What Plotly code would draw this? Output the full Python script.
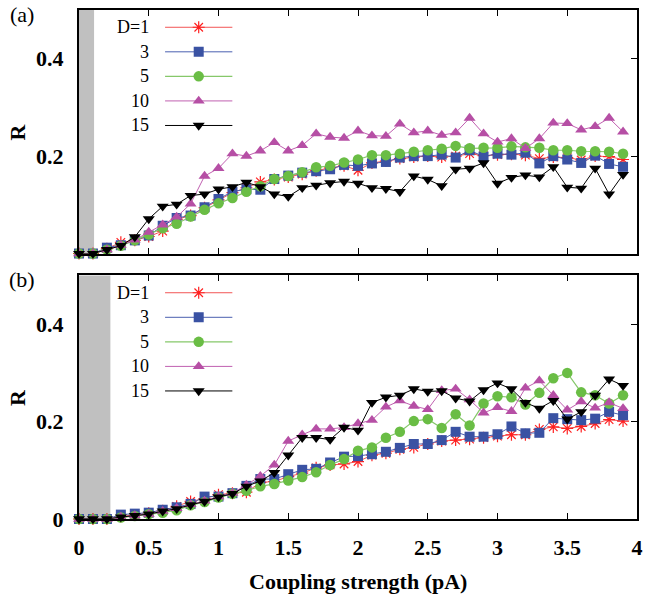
import plotly.graph_objects as go

# Coupling strength (pA)
coupling = [0.0, 0.1, 0.2, 0.3, 0.4, 0.5, 0.6, 0.7, 0.8, 0.9,
            1.0, 1.1, 1.2, 1.3, 1.4, 1.5, 1.6, 1.7, 1.8, 1.9,
            2.0, 2.1, 2.2, 2.3, 2.4, 2.5, 2.6, 2.7, 2.8, 2.9,
            3.0, 3.1, 3.2, 3.3, 3.4, 3.5, 3.6, 3.7, 3.8, 3.9]

# Panel (a): order parameter R for each D
a_D1 = [0, 0, 0.010, 0.023, 0.027, 0.035, 0.046, 0.070, 0.078, 0.094,
        0.110, 0.125, 0.135, 0.147, 0.152, 0.157, 0.163, 0.170, 0.176, 0.180,
        0.171, 0.186, 0.190, 0.195, 0.198, 0.200, 0.198, 0.200, 0.205, 0.201,
        0.203, 0.204, 0.202, 0.195, 0.198, 0.197, 0.192, 0.200, 0.199, 0.193]
a_D3 = [0, 0, 0.012, 0.017, 0.027, 0.037, 0.057, 0.073, 0.078, 0.095,
        0.112, 0.127, 0.132, 0.131, 0.153, 0.160, 0.166, 0.169, 0.173, 0.182,
        0.180, 0.185, 0.188, 0.197, 0.200, 0.200, 0.203, 0.197, 0.212, 0.199,
        0.205, 0.203, 0.207, 0.185, 0.200, 0.193, 0.186, 0.201, 0.184, 0.178]
a_D5 = [0, 0, 0.008, 0.016, 0.027, 0.039, 0.052, 0.061, 0.076, 0.090,
        0.103, 0.114, 0.127, 0.138, 0.153, 0.159, 0.167, 0.177, 0.180, 0.187,
        0.193, 0.202, 0.202, 0.205, 0.209, 0.212, 0.215, 0.221, 0.216, 0.217,
        0.217, 0.220, 0.218, 0.217, 0.212, 0.212, 0.210, 0.210, 0.209, 0.205]
a_D10 = [0, 0, 0.008, 0.017, 0.028, 0.044, 0.059, 0.075, 0.102, 0.159,
         0.175, 0.205, 0.200, 0.211, 0.228, 0.211, 0.222, 0.246, 0.239, 0.237,
         0.252, 0.242, 0.241, 0.266, 0.248, 0.252, 0.243, 0.248, 0.278, 0.246,
         0.229, 0.236, 0.216, 0.236, 0.268, 0.267, 0.254, 0.261, 0.278, 0.250]
a_D15 = [0, 0, 0.008, 0.016, 0.034, 0.071, 0.097, 0.101, 0.119, 0.122,
         0.132, 0.137, 0.146, 0.137, 0.122, 0.117, 0.135, 0.140, 0.145, 0.148,
         0.144, 0.135, 0.133, 0.127, 0.159, 0.152, 0.139, 0.173, 0.175, 0.186,
         0.144, 0.156, 0.161, 0.157, 0.178, 0.136, 0.134, 0.175, 0.122, 0.162]

# Panel (b): order parameter R for each D
b_D1 = [0, 0, 0, 0.005, 0.008, 0.012, 0.017, 0.026, 0.036, 0.042,
        0.050, 0.053, 0.055, 0.075, 0.077, 0.087, 0.094, 0.105, 0.111, 0.113,
        0.118, 0.131, 0.135, 0.143, 0.147, 0.154, 0.160, 0.162, 0.164, 0.167,
        0.170, 0.173, 0.173, 0.184, 0.189, 0.186, 0.190, 0.196, 0.204, 0.201]
b_D3 = [0, 0, 0, 0.009, 0.011, 0.013, 0.019, 0.024, 0.031, 0.046,
        0.046, 0.053, 0.068, 0.082, 0.082, 0.092, 0.101, 0.103, 0.116, 0.128,
        0.129, 0.133, 0.138, 0.146, 0.154, 0.154, 0.162, 0.179, 0.169, 0.169,
        0.174, 0.190, 0.176, 0.177, 0.207, 0.205, 0.203, 0.206, 0.220, 0.213]
b_D5 = [0, 0, 0, 0.003, 0.006, 0.010, 0.013, 0.018, 0.028, 0.035,
        0.044, 0.052, 0.058, 0.067, 0.072, 0.079, 0.086, 0.096, 0.111, 0.123,
        0.140, 0.147, 0.167, 0.179, 0.201, 0.205, 0.187, 0.215, 0.192, 0.237,
        0.252, 0.250, 0.235, 0.259, 0.289, 0.300, 0.260, 0.254, 0.237, 0.254]
b_D10 = [0, 0, 0, 0.004, 0.007, 0.010, 0.016, 0.022, 0.030, 0.037,
         0.046, 0.053, 0.070, 0.088, 0.111, 0.160, 0.173, 0.185, 0.185, 0.188,
         0.196, 0.203, 0.230, 0.243, 0.232, 0.225, 0.264, 0.267, 0.245, 0.218,
         0.229, 0.221, 0.269, 0.284, 0.254, 0.224, 0.241, 0.228, 0.239, 0.227]
b_D15 = [0, 0, 0, 0.004, 0.007, 0.010, 0.016, 0.021, 0.029, 0.036,
         0.045, 0.052, 0.067, 0.078, 0.095, 0.131, 0.167, 0.167, 0.163, 0.188,
         0.182, 0.239, 0.250, 0.254, 0.267, 0.262, 0.263, 0.248, 0.242, 0.265,
         0.279, 0.267, 0.239, 0.227, 0.243, 0.205, 0.220, 0.254, 0.287, 0.274]

series_labels = ["D=1", "3", "5", "10", "15"]
x_ticks = [0, 0.5, 1, 1.5, 2, 2.5, 3, 3.5, 4]
x_tick_text = ["0", "0.5", "1", "1.5", "2", "2.5", "3", "3.5", "4"]
y_ticks_a = [0.2, 0.4]
y_tick_text_a = ["0.2", "0.4"]
y_ticks_b = [0, 0.2, 0.4]
y_tick_text_b = ["0", "0.2", "0.4"]
silent_band_a = 0.108   # upper edge of the shaded region in (a)
silent_band_b = 0.225   # upper edge of the shaded region in (b)

SERIF = "Liberation Serif"


def bold(labels):
    return ["<b>%s</b>" % t for t in labels]


styles = [
    dict(line=dict(color="#f25555", width=1),
         marker=dict(symbol="asterisk-open", size=10, color="#ff2020",
                     line=dict(color="#ff2020", width=1.2))),
    dict(line=dict(color="#4a5fb0", width=1),
         marker=dict(symbol="square", size=10, color="#3a52a3")),
    dict(line=dict(color="#86c86a", width=1.2),
         marker=dict(symbol="circle", size=10.5, color="#6abd45")),
    dict(line=dict(color="#c060b0", width=1),
         marker=dict(symbol="triangle-up", size=10.5, color="#b64fa5")),
    dict(line=dict(color="#000000", width=1),
         marker=dict(symbol="triangle-down", size=10.5, color="#000000")),
]

fig = go.Figure()

panels = [
    ("x2", "y2", [a_D1, a_D3, a_D5, a_D10, a_D15]),
    ("x", "y", [b_D1, b_D3, b_D5, b_D10, b_D15]),
]
for xa, ya, data in panels:
    for lab, vals, st in zip(series_labels, data, styles):
        fig.add_trace(go.Scatter(x=coupling, y=vals, mode="lines+markers",
                                 name=lab, xaxis=xa, yaxis=ya, cliponaxis=False,
                                 showlegend=False, **st))

# placeholder traces so the right-hand tick axes are rendered
fig.add_trace(go.Scatter(x=[None], y=[None], xaxis="x", yaxis="y3",
                         showlegend=False, hoverinfo="skip"))
fig.add_trace(go.Scatter(x=[None], y=[None], xaxis="x2", yaxis="y4",
                         showlegend=False, hoverinfo="skip"))

# in-plot keys: text on the left, line sample with marker on the right
LEG_ROW0, LEG_STEP = 17.3, 24.6
LEG_TEXT_X, LEG_LINE = 73, (87, 155)
for xa, ya in (("x5", "y5"), ("x6", "y6")):
    for i, (lab, st) in enumerate(zip(series_labels, styles)):
        yy = LEG_ROW0 + LEG_STEP * i
        fig.add_trace(go.Scatter(x=[LEG_LINE[0], LEG_LINE[1]], y=[yy, yy],
                                 mode="lines", line=st["line"], xaxis=xa, yaxis=ya,
                                 showlegend=False, hoverinfo="skip"))
        fig.add_trace(go.Scatter(x=[(LEG_LINE[0] + LEG_LINE[1]) / 2], y=[yy],
                                 mode="markers", marker=st["marker"], xaxis=xa, yaxis=ya,
                                 showlegend=False, hoverinfo="skip"))
        fig.add_annotation(x=LEG_TEXT_X, y=yy, xref=xa, yref=ya, text=lab,
                           showarrow=False, xanchor="right", yanchor="middle",
                           font=dict(family=SERIF, size=18, color="black"))

H = 510.0
dom_b = [0, 244 / H]
dom_a = [266 / H, 1]

axis_common = dict(showline=True, linecolor="black", linewidth=2,
                   showgrid=False, zeroline=False)
xcommon = dict(axis_common, range=[0, 4], tickvals=x_ticks, ticktext=bold(x_tick_text),
               ticks="inside", ticklen=6, tickwidth=1.2, tickcolor="black",
               mirror="all")
ycommon = dict(axis_common, range=[0, 0.5], ticks="", mirror=True,
               tickfont=dict(family=SERIF, size=22, color="black"),
               ticklabelstandoff=9)
hidden = dict(visible=False, showgrid=False, zeroline=False, fixedrange=True)
right_ticks = dict(side="right", range=[0, 0.5], tickvals=y_ticks_a,
                   ticks="inside", ticklen=6, tickwidth=1.2, tickcolor="black",
                   showticklabels=False, showgrid=False, zeroline=False, showline=False)

fig.update_layout(
    width=651, height=599,
    margin=dict(l=79, r=8, t=9, b=80),
    paper_bgcolor="white", plot_bgcolor="rgba(0,0,0,0)",
    xaxis=dict(xcommon, anchor="y", domain=[0, 1],
               tickfont=dict(family=SERIF, size=22, color="black"),
               ticklabelstandoff=8),
    yaxis=dict(ycommon, anchor="x", domain=dom_b, tickvals=y_ticks_b,
               ticktext=bold(y_tick_text_b)),
    xaxis2=dict(xcommon, anchor="y2", domain=[0, 1], showticklabels=False,
                matches="x"),
    yaxis2=dict(ycommon, anchor="x2", domain=dom_a, tickvals=y_ticks_a,
                ticktext=bold(y_tick_text_a)),
    yaxis3=dict(right_ticks, overlaying="y"),
    yaxis4=dict(right_ticks, overlaying="y2"),
    xaxis5=dict(hidden, anchor="y5", domain=[0, 1], range=[0, 564]),
    yaxis5=dict(hidden, anchor="x5", domain=dom_a, range=[244, 0]),
    xaxis6=dict(hidden, anchor="y6", domain=[0, 1], range=[0, 564]),
    yaxis6=dict(hidden, anchor="x6", domain=dom_b, range=[244, 0]),
)

# shaded low-coupling region
for xr, yr, x1 in (("x2", "y2 domain", silent_band_a), ("x", "y domain", silent_band_b)):
    fig.add_shape(type="rect", xref=xr, yref=yr, x0=0, x1=x1, y0=0, y1=1,
                  fillcolor="#c0c0c0", line=dict(width=0), layer="below")

# axis titles and panel tags
for ydom in (dom_a, dom_b):
    fig.add_annotation(x=-62 / 564, y=(ydom[0] + ydom[1]) / 2, xref="paper",
                       yref="paper", xanchor="center", yanchor="middle",
                       text="<b>R</b>", textangle=-90, showarrow=False,
                       font=dict(family=SERIF, size=22, color="black"))
fig.add_annotation(x=0.5, y=0, xref="paper", yref="paper", yshift=-62,
                   text="<b>Coupling strength (pA)</b>", showarrow=False,
                   yanchor="middle",
                   font=dict(family=SERIF, size=22, color="black"))
fig.add_annotation(x=-58 / 564, y=1, xref="paper", yref="paper", yshift=-4,
                   text="(a)", showarrow=False, xanchor="center", yanchor="middle",
                   font=dict(family=SERIF, size=22, color="black"))
fig.add_annotation(x=-58 / 564, y=dom_b[1], xref="paper", yref="paper", yshift=-4,
                   text="(b)", showarrow=False, xanchor="center", yanchor="middle",
                   font=dict(family=SERIF, size=22, color="black"))

fig.write_html("out.html")
